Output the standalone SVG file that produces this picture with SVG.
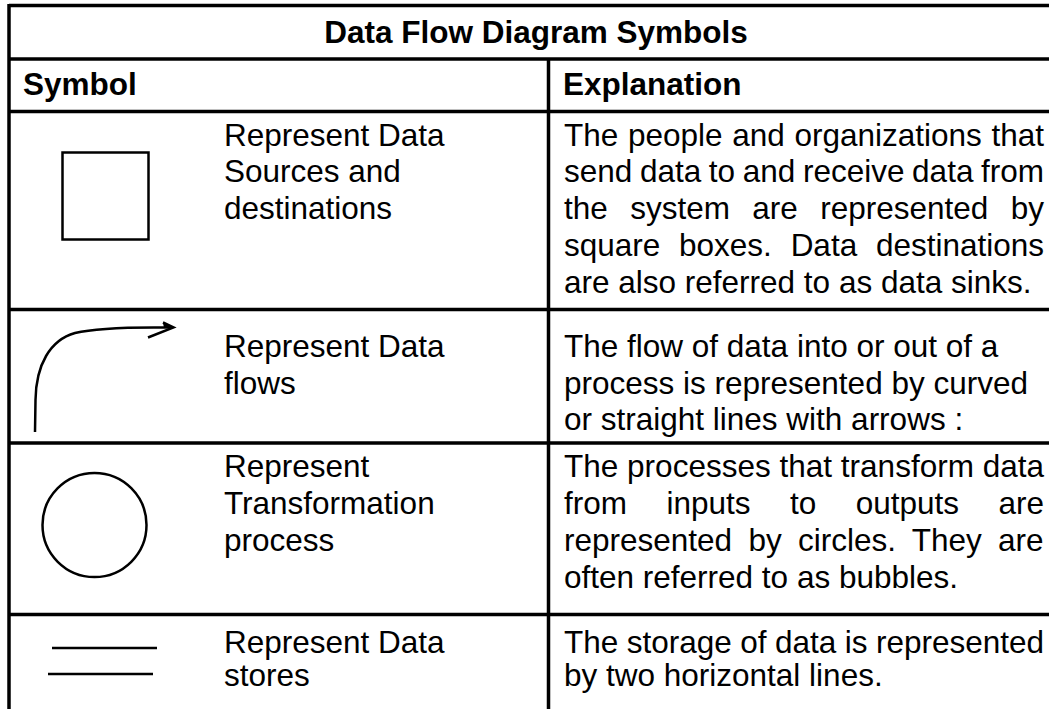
<svg xmlns="http://www.w3.org/2000/svg" width="1049" height="709" viewBox="0 0 1049 709">
<style>
.grid{stroke:#000;stroke-width:3.5;fill:none}
.sym{stroke:#000;stroke-width:2.5;fill:none}
.t{font-family:"Liberation Sans",Arial,sans-serif;font-size:31.5px;fill:#000}
.b{font-family:"Liberation Sans",Arial,sans-serif;font-size:31.5px;font-weight:bold;fill:#000}
</style>
<rect width="1049" height="709" fill="#fff"/>
<g id="table">
<line class="grid" x1="9" y1="5.5" x2="1049" y2="5.5"/>
<line class="grid" x1="9" y1="59" x2="1049" y2="59"/>
<line class="grid" x1="9" y1="111.5" x2="1049" y2="111.5"/>
<line class="grid" x1="9" y1="309.5" x2="1049" y2="309.5"/>
<line class="grid" x1="9" y1="443" x2="1049" y2="443"/>
<line class="grid" x1="9" y1="614.5" x2="1049" y2="614.5"/>
<line class="grid" x1="9" y1="4" x2="9" y2="709"/>
<line class="grid" x1="548.5" y1="59" x2="548.5" y2="709"/>
<text class="b" x="536" y="43" text-anchor="middle">Data Flow Diagram Symbols</text>
<text class="b" x="23" y="95">Symbol</text>
<text class="b" x="563" y="95">Explanation</text>
</g>
<g id="row-sources">
<rect class="sym" x="62.5" y="152.5" width="86" height="87" stroke-width="2"/>
<text class="t" x="224"><tspan x="224" y="145.5">Represent Data</tspan><tspan x="224" y="182.3">Sources and</tspan><tspan x="224" y="219.1">destinations</tspan></text>
<text class="t" x="564" y="145.5" word-spacing="0.93">The people and organizations that</text>
<text class="t" x="564" y="182.3" word-spacing="-1.13">send data to and receive data from</text>
<text class="t" x="564" y="219.1" word-spacing="13.64">the system are represented by</text>
<text class="t" x="564" y="255.9" word-spacing="10">square boxes. Data destinations</text>
<text class="t" x="564" y="292.7">are also referred to as data sinks.</text>
</g>
<g id="row-flows">
<path class="sym" d="M35,432 L35.5,400 C36,365 50,340 75,333 C95,328 130,327 170,327.5"/>
<path class="sym" d="M148,337.5 L173.5,327.5 L163,322.5" stroke-linejoin="miter"/>
<path d="M173.5,327.5 L163,322.5 L164,328 Z" fill="#000"/>
<text class="t"><tspan x="224" y="356.7">Represent Data</tspan><tspan x="224" y="393.5">flows</tspan></text>
<text class="t" x="564" y="356.7">The flow of data into or out of a</text>
<text class="t" x="564" y="393.5">process is represented by curved</text>
<text class="t" x="564" y="430.3">or straight lines with arrows :</text>
</g>
<g id="row-process">
<circle class="sym" cx="94.5" cy="525" r="52"/>
<text class="t"><tspan x="224" y="477">Represent</tspan><tspan x="224" y="514">Transformation</tspan><tspan x="224" y="551">process</tspan></text>
<text class="t" x="564" y="477" word-spacing="0.07">The processes that transform data</text>
<text class="t" x="564" y="514" word-spacing="30.7">from inputs to outputs are</text>
<text class="t" x="564" y="551" word-spacing="7.52">represented by circles. They are</text>
<text class="t" x="564" y="588">often referred to as bubbles.</text>
</g>
<g id="row-stores">
<line class="sym" x1="52" y1="648" x2="157" y2="648" stroke-width="3"/>
<line class="sym" x1="48" y1="674" x2="153" y2="674" stroke-width="3"/>
<text class="t"><tspan x="224" y="653">Represent Data</tspan><tspan x="224" y="686">stores</tspan></text>
<text class="t" x="564" y="653" word-spacing="-0.3">The storage of data is represented</text>
<text class="t" x="564" y="686">by two horizontal lines.</text>
</g>
</svg>
